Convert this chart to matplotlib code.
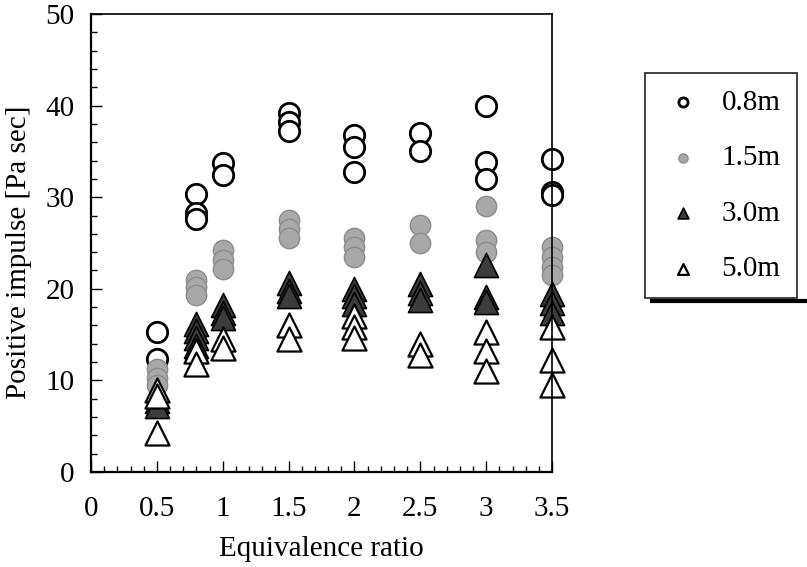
#!/usr/bin/env python3
# coding=utf-8

import matplotlib
matplotlib.use('Agg')
import matplotlib.pyplot as plt
from matplotlib.lines import Line2D
from matplotlib.ticker import MultipleLocator, FuncFormatter

plt.rcParams['font.family'] = ['Liberation Serif', 'DejaVu Serif']
plt.rcParams['font.size'] = 21

# positive impulse [Pa sec] per equivalence ratio, for each measuring distance
ratios = [0.5, 0.8, 1.0, 1.5, 2.0, 2.5, 3.0, 3.5]

imp_08 = [[15.3, 12.3], [30.3, 28.3, 27.6], [33.7, 32.4], [39.2, 38.2, 37.2],
          [36.8, 35.5, 32.8], [37.0, 35.0], [40.0, 33.8, 32.0], [34.2, 30.6, 30.2]]
imp_15 = [[11.3, 10.3, 9.5], [21.0, 20.2, 19.3], [24.2, 23.2, 22.2], [27.5, 26.5, 25.6],
          [25.6, 24.6, 23.5], [27.0, 25.0], [29.0, 25.3, 24.0], [24.6, 23.5, 22.4, 21.5]]
imp_30 = [[7.8, 7.2], [16.2, 15.4, 14.6, 13.8], [18.2, 17.4, 16.8], [20.6, 19.8, 19.2],
          [20.0, 19.2, 18.3], [20.5, 19.5, 18.8], [22.6, 19.1, 18.6], [19.4, 18.4, 17.4]]
imp_50 = [[9.0, 8.3, 4.3], [13.2, 11.8], [14.5, 13.5], [16.0, 14.5],
          [17.0, 15.8, 14.6], [14.0, 12.8], [15.3, 13.2, 11.0], [15.8, 12.2, 9.5]]

labels = ['0.8m', '1.5m', '3.0m', '5.0m']


def flatten(groups):
    xs, ys = [], []
    for x, vals in zip(ratios, groups):
        for v in vals:
            xs.append(x)
            ys.append(v)
    return xs, ys


fig = plt.figure(figsize=(8.07, 5.67), dpi=100)
ax = fig.add_axes([0.1128, 0.1675, 0.5713, 0.8078])

styles = [
    dict(marker='o', s=215, facecolors='white', edgecolors='black', linewidths=2.0),
    dict(marker='o', s=215, facecolors='#a8a8a8', edgecolors='#8c8c8c', linewidths=1.0),
    dict(marker='^', s=300, facecolors='#3c3c3c', edgecolors='black', linewidths=1.2),
    dict(marker='^', s=300, facecolors='white', edgecolors='black', linewidths=1.6),
]

for groups, lab, st in zip([imp_08, imp_15, imp_30, imp_50], labels, styles):
    xs, ys = flatten(groups)
    ax.scatter(xs, ys, label=lab, clip_on=False, **st)

ax.set_xlim(0, 3.5)
ax.set_ylim(0, 50)
ax.xaxis.set_major_locator(MultipleLocator(0.5))
ax.xaxis.set_minor_locator(MultipleLocator(0.1))
ax.xaxis.set_major_formatter(FuncFormatter(lambda v, p: '%g' % v))
ax.yaxis.set_major_locator(MultipleLocator(10))
ax.yaxis.set_minor_locator(MultipleLocator(2))
ax.tick_params(which='both', direction='in', top=False, right=False, width=1.0)
ax.tick_params(which='major', length=8)
ax.tick_params(which='minor', length=4)
ax.tick_params(axis='x', pad=17)
ax.tick_params(axis='y', pad=12)

for side in ['left', 'bottom']:
    ax.spines[side].set_linewidth(1.6)
for side in ['top', 'right']:
    ax.spines[side].set_linewidth(1.2)

ax.set_xlabel('Equivalence ratio', labelpad=10)
ax.set_ylabel('Positive impulse [Pa sec]')
ax.yaxis.set_label_coords(-0.128, 0.48)

leg = ax.legend(loc='upper left', bbox_to_anchor=(0.799, 0.871),
                bbox_transform=fig.transFigure, frameon=True, fancybox=False,
                edgecolor='black', markerscale=0.45, borderpad=0.55,
                labelspacing=1.0, handlelength=1.5, handletextpad=0.58,
                borderaxespad=0)
leg.get_frame().set_linewidth(1.3)

# shadow line just under the legend box
fig.canvas.draw()
bb = leg.get_window_extent().transformed(fig.transFigure.inverted())
fig.add_artist(Line2D([bb.x0 + 7 / 807, 1.0], [bb.y0 - 3 / 567] * 2, lw=3,
                      color='black', transform=fig.transFigure))

fig.savefig('out.png', dpi=100)
